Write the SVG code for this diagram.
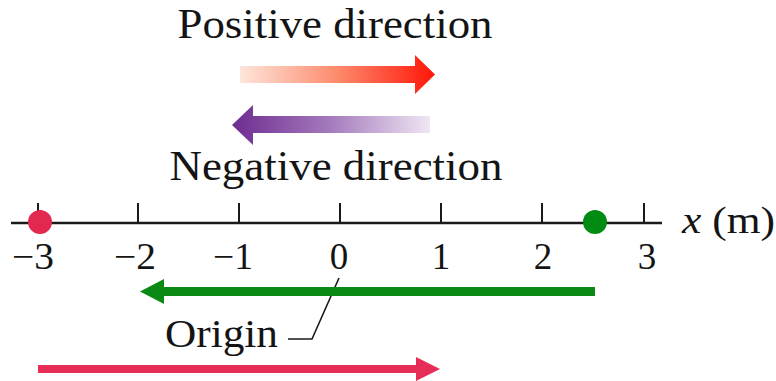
<svg xmlns="http://www.w3.org/2000/svg" width="776" height="381" viewBox="0 0 776 381">
  <style>
    .lbl { font-family: "Liberation Serif", "DejaVu Serif", serif; fill: #141414; }
    .big { font-size: 43px; }
    .num { font-size: 37px; }
    .axis { stroke: #1a1a1a; stroke-width: 2.5; fill: none; }
    .tick { stroke: #1a1a1a; stroke-width: 2; fill: none; }
    .leader { stroke: #1a1a1a; stroke-width: 1.6; fill: none; }
  </style>
  <defs>
    <linearGradient id="gPos" gradientUnits="userSpaceOnUse" x1="240" y1="0" x2="435" y2="0">
      <stop offset="0" stop-color="#fde6da"/>
      <stop offset="0.5" stop-color="#fd8a6c"/>
      <stop offset="1" stop-color="#ff1608"/>
    </linearGradient>
    <linearGradient id="gNeg" gradientUnits="userSpaceOnUse" x1="232" y1="0" x2="430" y2="0">
      <stop offset="0" stop-color="#6e2c90"/>
      <stop offset="0.5" stop-color="#a57bbd"/>
      <stop offset="1" stop-color="#efe6f3"/>
    </linearGradient>
  </defs>
  <rect width="776" height="381" fill="#ffffff"/>

  <g id="positive-direction">
    <text class="lbl big" x="335" y="38" text-anchor="middle" textLength="315" lengthAdjust="spacingAndGlyphs">Positive direction</text>
    <polygon points="240,66 415,66 415,55 435,74.5 415,94 415,83 240,83" fill="url(#gPos)"/>
  </g>

  <g id="negative-direction">
    <polygon points="430,116 253,116 253,105 232,125 253,145 253,133 430,133" fill="url(#gNeg)"/>
    <text class="lbl big" x="336" y="180" text-anchor="middle" textLength="333" lengthAdjust="spacingAndGlyphs">Negative direction</text>
  </g>

  <g id="axis">
    <line class="axis" x1="11" y1="223" x2="662" y2="223"/>
    <path class="tick" d="M38,203V223 M138,203V223 M239,203V223 M340,203V223 M441,203V223 M542,203V223 M644,203V223"/>
    <text class="lbl num" x="54" y="269" text-anchor="end" textLength="42" lengthAdjust="spacingAndGlyphs">−3</text>
    <text class="lbl num" x="156" y="269" text-anchor="end" textLength="42" lengthAdjust="spacingAndGlyphs">−2</text>
    <text class="lbl num" x="253" y="269" text-anchor="end" textLength="40" lengthAdjust="spacingAndGlyphs">−1</text>
    <text class="lbl num" x="339" y="269" text-anchor="middle">0</text>
    <text class="lbl num" x="441" y="269" text-anchor="middle">1</text>
    <text class="lbl num" x="543" y="269" text-anchor="middle">2</text>
    <text class="lbl num" x="647" y="269" text-anchor="middle">3</text>
    <text class="lbl" x="682" y="233" font-size="37" textLength="93" lengthAdjust="spacingAndGlyphs"><tspan font-style="italic">x</tspan> (m)</text>
  </g>

  <g id="point-start">
    <circle cx="40" cy="222" r="12" fill="#e3284f"/>
  </g>
  <g id="point-end">
    <circle cx="595" cy="222" r="12" fill="#008c12"/>
  </g>

  <g id="origin-label">
    <text class="lbl" x="165" y="347" font-size="40" textLength="113" lengthAdjust="spacingAndGlyphs">Origin</text>
  </g>

  <g id="connectors">
    <polyline class="leader" points="288,339 312,339 339,278"/>
    <g id="green-displacement">
      <line x1="595" y1="291.5" x2="160" y2="291.5" stroke="#0a8a14" stroke-width="9"/>
      <polygon points="140,291.5 164,279 164,304" fill="#0a8a14"/>
    </g>
    <g id="red-displacement">
      <line x1="38" y1="369" x2="420" y2="369" stroke="#e52d55" stroke-width="8"/>
      <polygon points="440,369 416,357 416,381" fill="#e52d55"/>
    </g>
  </g>
</svg>
